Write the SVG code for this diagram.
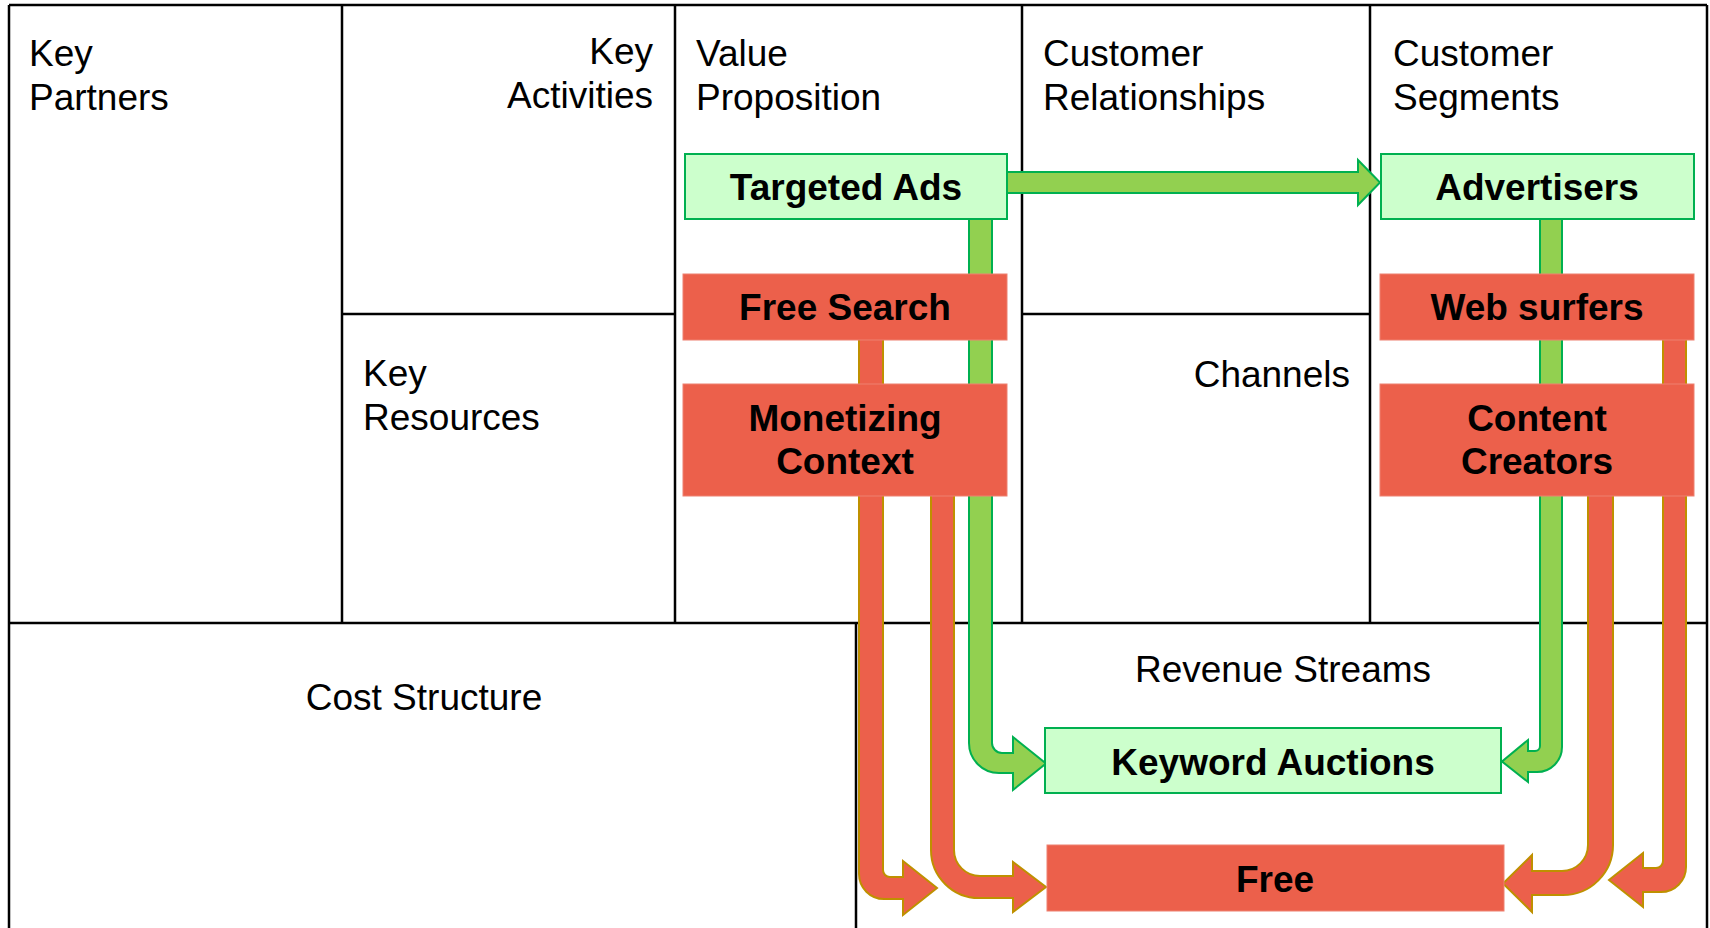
<svg xmlns="http://www.w3.org/2000/svg" width="1710" height="928" viewBox="0 0 1710 928">
<style>
  .grid line { stroke: #000; stroke-width: 2.5; }
  .lbl { font-family: "Liberation Sans", Arial, sans-serif; font-size: 37px; fill: #000; }
  .blbl { font-family: "Liberation Sans", Arial, sans-serif; font-size: 37px; font-weight: bold; fill: #000; text-anchor: middle; }
  .gbox { fill: #CCFFCC; stroke: #00B050; stroke-width: 2; }
  .rbox { fill: #EC604B; stroke: #EE8070; stroke-width: 1; }
  .garrow { fill: #92D050; stroke: #00B050; stroke-width: 2; stroke-linejoin: miter; }
  .rarrow { fill: #EC604B; stroke: #BF9000; stroke-width: 2; stroke-linejoin: miter; }
</style>
<rect x="0" y="0" width="1710" height="928" fill="#fff"/>
<g id="canvas-grid" class="grid">
  <line x1="9" y1="5" x2="1707" y2="5"/>
  <line x1="9" y1="5" x2="9" y2="928"/>
  <line x1="1707" y1="5" x2="1707" y2="928"/>
  <line x1="342" y1="5" x2="342" y2="623"/>
  <line x1="675" y1="5" x2="675" y2="623"/>
  <line x1="1022" y1="5" x2="1022" y2="623"/>
  <line x1="1370" y1="5" x2="1370" y2="623"/>
  <line x1="342" y1="314" x2="675" y2="314"/>
  <line x1="1022" y1="314" x2="1370" y2="314"/>
  <line x1="9" y1="623" x2="1707" y2="623"/>
  <line x1="856" y1="623" x2="856" y2="928"/>
</g>
<g id="cell-key-partners"><text class="lbl" x="29" y="66">Key</text><text class="lbl" x="29" y="110">Partners</text></g>
<g id="cell-key-activities"><text class="lbl" x="653" y="64" text-anchor="end">Key</text><text class="lbl" x="653" y="108" text-anchor="end">Activities</text></g>
<g id="cell-key-resources"><text class="lbl" x="363" y="386">Key</text><text class="lbl" x="363" y="430">Resources</text></g>
<g id="cell-value-proposition"><text class="lbl" x="696" y="66">Value</text><text class="lbl" x="696" y="110">Proposition</text></g>
<g id="cell-customer-relationships"><text class="lbl" x="1043" y="66">Customer</text><text class="lbl" x="1043" y="110">Relationships</text></g>
<g id="cell-channels"><text class="lbl" x="1350" y="387" text-anchor="end">Channels</text></g>
<g id="cell-customer-segments"><text class="lbl" x="1393" y="66">Customer</text><text class="lbl" x="1393" y="110">Segments</text></g>
<g id="cell-cost-structure"><text class="lbl" x="424" y="710" text-anchor="middle">Cost Structure</text></g>
<g id="cell-revenue-streams"><text class="lbl" x="1283" y="682" text-anchor="middle">Revenue Streams</text></g>

<g id="connectors">
  <path class="garrow" d="M1005,172 H1358 V160 L1380,182.5 L1358,205 V193 H1005 Z"/>
  <path class="garrow" d="M969,217 V743 A30,30 0 0 0 999,773 H1013 V790 L1046,763.5 L1013,737 V753 H1002 A10,10 0 0 1 992,743 V217 Z"/>
  <path class="garrow" d="M1540,217 V746 A5,5 0 0 1 1535,751 H1528 V740 L1502,761.5 L1528,782 V772 H1537 A25,25 0 0 0 1562,747 V217 Z"/>
  <path class="rarrow" d="M859,338 V874 A25,25 0 0 0 884,899 H903 V915 L937,888 L903,861 V877 H890 A7,7 0 0 1 883,870 V338 Z"/>
  <path class="rarrow" d="M931,494 V850 A48,48 0 0 0 979,898 H1013 V912 L1046,887 L1013,862 V876 H980 A26,26 0 0 1 954,850 V494 Z"/>
  <path class="rarrow" d="M1613,494 V845 A50,50 0 0 1 1563,895 H1532 V912 L1503,883.5 L1532,855 V871 H1562 A26,26 0 0 0 1588,845 V494 Z"/>
  <path class="rarrow" d="M1686,338 V867 A25,25 0 0 1 1661,892 H1643 V907 L1609,880 L1643,853 V868 H1656 A7,7 0 0 0 1663,861 V338 Z"/>
</g>

<g id="node-targeted-ads"><rect class="gbox" x="685" y="154" width="322" height="65"/><text class="blbl" x="846" y="200">Targeted Ads</text></g>
<g id="node-free-search"><rect class="rbox" x="683" y="274" width="324" height="66"/><text class="blbl" x="845" y="320">Free Search</text></g>
<g id="node-monetizing-context"><rect class="rbox" x="683" y="384" width="324" height="112"/><text class="blbl" x="845" y="431">Monetizing</text><text class="blbl" x="845" y="474">Context</text></g>
<g id="node-advertisers"><rect class="gbox" x="1381" y="154" width="313" height="65"/><text class="blbl" x="1537" y="200">Advertisers</text></g>
<g id="node-web-surfers"><rect class="rbox" x="1380" y="274" width="314" height="66"/><text class="blbl" x="1537" y="320">Web surfers</text></g>
<g id="node-content-creators"><rect class="rbox" x="1380" y="384" width="314" height="112"/><text class="blbl" x="1537" y="431">Content</text><text class="blbl" x="1537" y="474">Creators</text></g>
<g id="node-keyword-auctions"><rect class="gbox" x="1045" y="728" width="456" height="65"/><text class="blbl" x="1273" y="775">Keyword Auctions</text></g>
<g id="node-free"><rect class="rbox" x="1047" y="845" width="457" height="66"/><text class="blbl" x="1275" y="892">Free</text></g>
</svg>
